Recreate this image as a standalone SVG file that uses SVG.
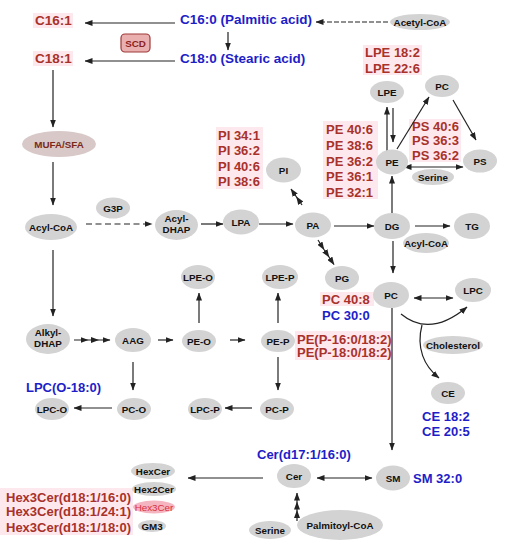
<svg xmlns="http://www.w3.org/2000/svg" width="507" height="550" viewBox="0 0 507 550">
<defs>
<style>
.n ellipse{fill:#d3d3d3}
.t{font-family:"Liberation Sans",Arial,sans-serif;font-weight:bold;font-size:9.8px;text-anchor:middle;fill:#111}
.lr{font-family:"Liberation Sans",Arial,sans-serif;font-weight:bold;font-size:13px;fill:#a8322a}
.lb{font-family:"Liberation Sans",Arial,sans-serif;font-weight:bold;font-size:13px;fill:#1e1ec8}
.big{font-size:13.5px}
.bg{fill:#fde8ee}
#connectors line,#connectors path,#connectors polyline{stroke:#222;stroke-width:1.2;fill:none}
</style>
<marker id="ah" markerUnits="userSpaceOnUse" markerWidth="8" markerHeight="6" refX="7.5" refY="3" orient="auto-start-reverse">
<path d="M0,0 L8,3 L0,6 Z" fill="#222"/>
</marker>
</defs>
<rect width="507" height="550" fill="#fff"/>

<g id="labels">
<rect class="bg" x="33" y="13" width="40" height="15"/>
<text class="lr big" x="35" y="25">C16:1</text>
<rect class="bg" x="33" y="51" width="40" height="15"/>
<text class="lr big" x="35" y="63">C18:1</text>
<text class="lb big" x="180" y="24">C16:0 (Palmitic acid)</text>
<text class="lb big" x="180" y="63">C18:0 (Stearic acid)</text>
<rect class="bg" x="363" y="45" width="59" height="30"/>
<text class="lr" x="365" y="57">LPE 18:2</text>
<text class="lr" x="365" y="72.5">LPE 22:6</text>
<rect class="bg" x="216" y="127" width="47" height="62"/>
<text class="lr" x="218" y="139.5">PI 34:1</text>
<text class="lr" x="218" y="155">PI 36:2</text>
<text class="lr" x="218" y="170.5">PI 40:6</text>
<text class="lr" x="218" y="186">PI 38:6</text>
<rect class="bg" x="323" y="121" width="55" height="78"/>
<text class="lr" x="326" y="133.5">PE 40:6</text>
<text class="lr" x="326" y="149.5">PE 38:6</text>
<text class="lr" x="326" y="165.5">PE 36:2</text>
<text class="lr" x="326" y="181">PE 36:1</text>
<text class="lr" x="326" y="196.5">PE 32:1</text>
<rect class="bg" x="409" y="119" width="52" height="43"/>
<text class="lr" x="412" y="130.5">PS 40:6</text>
<text class="lr" x="412" y="145">PS 36:3</text>
<text class="lr" x="412" y="159.5">PS 36:2</text>
<rect class="bg" x="320" y="292" width="54" height="14"/>
<text class="lr" x="322" y="303.5">PC 40:8</text>
<text class="lb" x="322" y="319.5">PC 30:0</text>
<rect class="bg" x="295" y="331" width="96" height="29"/>
<text class="lr" x="297" y="343.5">PE(P-16:0/18:2)</text>
<text class="lr" x="297" y="357">PE(P-18:0/18:2)</text>
<text class="lb" x="26" y="391.5">LPC(O-18:0)</text>
<text class="lb" x="422" y="420.5">CE 18:2</text>
<text class="lb" x="422" y="435.5">CE 20:5</text>
<text class="lb" x="257" y="458.5">Cer(d17:1/16:0)</text>
<text class="lb" x="413" y="482.5">SM 32:0</text>
<rect class="bg" x="0" y="488" width="133" height="47"/>
<text class="lr" x="6" y="501.5">Hex3Cer(d18:1/16:0)</text>
<text class="lr" x="6" y="516">Hex3Cer(d18:1/24:1)</text>
<text class="lr" x="6" y="531.5">Hex3Cer(d18:1/18:0)</text>
</g>

<g id="connectors">
<line x1="388" y1="22" x2="316" y2="22" stroke-dasharray="5,2" marker-end="url(#ah)"/>
<line x1="175" y1="23" x2="85" y2="23" marker-end="url(#ah)"/>
<line x1="228" y1="32" x2="228" y2="50" marker-end="url(#ah)"/>
<line x1="175" y1="61" x2="85" y2="61" marker-end="url(#ah)"/>
<line x1="53" y1="70" x2="53" y2="127" marker-end="url(#ah)"/>
<line x1="53" y1="162" x2="53" y2="205" marker-end="url(#ah)"/>
<line x1="86" y1="224" x2="152" y2="224" stroke-dasharray="6,3.5" marker-end="url(#ah)"/>
<line x1="201" y1="224" x2="223" y2="224" marker-end="url(#ah)"/>
<line x1="259" y1="224" x2="293" y2="224" marker-end="url(#ah)"/>
<line x1="334" y1="226" x2="374" y2="226" marker-end="url(#ah)"/>
<line x1="415" y1="226" x2="450" y2="226" marker-end="url(#ah)"/>
<polyline points="302,205 296.5,197 291,189" marker-mid="url(#ah)" marker-end="url(#ah)"/>
<polyline points="318,240 324,249.5 329,257 334,264.5" marker-mid="url(#ah)" marker-end="url(#ah)"/>
<line x1="392" y1="213" x2="392" y2="176" marker-end="url(#ah)"/>
<line x1="387" y1="152" x2="387" y2="107" marker-end="url(#ah)"/>
<line x1="393" y1="108" x2="393" y2="142" marker-end="url(#ah)"/>
<line x1="397" y1="149" x2="429" y2="97" marker-end="url(#ah)"/>
<line x1="453" y1="100" x2="476" y2="140" marker-end="url(#ah)"/>
<line x1="404" y1="167" x2="463" y2="167" marker-start="url(#ah)" marker-end="url(#ah)"/>
<line x1="393" y1="241" x2="393" y2="273" marker-end="url(#ah)"/>
<line x1="414" y1="298" x2="453" y2="298" marker-start="url(#ah)" marker-end="url(#ah)"/>
<path d="M401,314 Q430,338 467,307" marker-end="url(#ah)"/>
<path d="M422,325 C416,348 424,366 439,378" marker-end="url(#ah)"/>
<line x1="392" y1="308" x2="392" y2="450" marker-end="url(#ah)"/>
<line x1="53" y1="250" x2="53" y2="316" marker-end="url(#ah)"/>
<polyline points="74,340 88,340 98.5,340 110,340" marker-mid="url(#ah)" marker-end="url(#ah)"/>
<line x1="158" y1="340" x2="173" y2="340" marker-end="url(#ah)"/>
<line x1="133" y1="362" x2="133" y2="390" marker-end="url(#ah)"/>
<line x1="112" y1="408" x2="74" y2="408" marker-end="url(#ah)"/>
<line x1="199" y1="323" x2="199" y2="293" marker-end="url(#ah)"/>
<line x1="230" y1="340" x2="245" y2="340" marker-end="url(#ah)"/>
<line x1="278" y1="323" x2="278" y2="293" marker-end="url(#ah)"/>
<line x1="278" y1="357" x2="278" y2="390" marker-end="url(#ah)"/>
<line x1="252" y1="408" x2="225" y2="408" marker-end="url(#ah)"/>
<line x1="263" y1="478" x2="188" y2="478" marker-end="url(#ah)"/>
<line x1="317" y1="478" x2="372" y2="478" marker-start="url(#ah)" marker-end="url(#ah)"/>
<polyline points="297,521 297,510.5 297,502 297,493" marker-mid="url(#ah)" marker-end="url(#ah)"/>
</g>

<g id="SCD"><rect x="121" y="34" width="29" height="18" rx="4" fill="#eab0b0" stroke="#a03838" stroke-width="1.2"/><text class="t" x="135.5" y="46.5" style="fill:#8b1f1f">SCD</text></g>
<g id="AcetylCoA" class="n"><ellipse cx="420" cy="22" rx="30" ry="8"/><text class="t" x="420" y="25.5">Acetyl-CoA</text></g>
<g id="MUFASFA"><ellipse cx="59" cy="144" rx="37" ry="13" fill="#d8c8c8"/><text class="t" x="59" y="147.5" style="fill:#7a2a1a">MUFA/SFA</text></g>
<g id="AcylCoA" class="n"><ellipse cx="51" cy="227" rx="26" ry="13"/><text class="t" x="51" y="230.5">Acyl-CoA</text></g>
<g id="G3P" class="n"><ellipse cx="113" cy="208" rx="17" ry="10.5"/><text class="t" x="113" y="211.5">G3P</text></g>
<g id="AcylDHAP" class="n"><ellipse cx="176.5" cy="225" rx="21.5" ry="15"/><text class="t" x="176.5" y="222">Acyl-</text><text class="t" x="176.5" y="233">DHAP</text></g>
<g id="LPA" class="n"><ellipse cx="241" cy="222" rx="18" ry="12.5"/><text class="t" x="241" y="225.5">LPA</text></g>
<g id="PA" class="n"><ellipse cx="313" cy="225" rx="18" ry="12.5"/><text class="t" x="313" y="228.5">PA</text></g>
<g id="DG" class="n"><ellipse cx="392" cy="226" rx="18" ry="13"/><text class="t" x="392" y="229.5">DG</text></g>
<g id="TG" class="n"><ellipse cx="472" cy="226" rx="18" ry="13"/><text class="t" x="472" y="229.5">TG</text></g>
<g id="AcylCoA2" class="n"><ellipse cx="426" cy="243" rx="23" ry="10"/><text class="t" x="426" y="246.5">Acyl-CoA</text></g>
<g id="PI" class="n"><ellipse cx="283.5" cy="170" rx="17.5" ry="12.5"/><text class="t" x="283.5" y="173.5">PI</text></g>
<g id="PG" class="n"><ellipse cx="342" cy="278" rx="17" ry="12"/><text class="t" x="342" y="281.5">PG</text></g>
<g id="LPE" class="n"><ellipse cx="387" cy="92" rx="17" ry="11"/><text class="t" x="387" y="95.5">LPE</text></g>
<g id="PCtop" class="n"><ellipse cx="442" cy="86" rx="17" ry="11"/><text class="t" x="442" y="89.5">PC</text></g>
<g id="PE" class="n"><ellipse cx="392" cy="162" rx="16" ry="12.5"/><text class="t" x="392" y="165.5">PE</text></g>
<g id="PS" class="n"><ellipse cx="480" cy="161" rx="17" ry="11.5"/><text class="t" x="480" y="164.5">PS</text></g>
<g id="Serine1" class="n"><ellipse cx="433" cy="177" rx="21" ry="8"/><text class="t" x="433" y="180.5">Serine</text></g>
<g id="PC" class="n"><ellipse cx="391" cy="295" rx="18" ry="13"/><text class="t" x="391" y="298.5">PC</text></g>
<g id="LPC" class="n"><ellipse cx="473" cy="290" rx="18" ry="12"/><text class="t" x="473" y="293.5">LPC</text></g>
<g id="Cholesterol" class="n"><ellipse cx="453" cy="345" rx="30" ry="9"/><text class="t" x="453" y="348.5">Cholesterol</text></g>
<g id="CE" class="n"><ellipse cx="448" cy="393" rx="17" ry="11"/><text class="t" x="448" y="396.5">CE</text></g>
<g id="AlkylDHAP" class="n"><ellipse cx="48" cy="339" rx="22" ry="15"/><text class="t" x="48" y="335.5">Alkyl-</text><text class="t" x="48" y="346.5">DHAP</text></g>
<g id="AAG" class="n"><ellipse cx="133" cy="340" rx="18" ry="12"/><text class="t" x="133" y="343.5">AAG</text></g>
<g id="PEO" class="n"><ellipse cx="199" cy="341" rx="17" ry="11"/><text class="t" x="199" y="344.5">PE-O</text></g>
<g id="PEP" class="n"><ellipse cx="278" cy="341" rx="17" ry="11"/><text class="t" x="278" y="344.5">PE-P</text></g>
<g id="LPEO" class="n"><ellipse cx="198" cy="277" rx="17" ry="12"/><text class="t" x="198" y="280.5">LPE-O</text></g>
<g id="LPEP" class="n"><ellipse cx="280" cy="277" rx="18" ry="12"/><text class="t" x="280" y="280.5">LPE-P</text></g>
<g id="PCO" class="n"><ellipse cx="134" cy="409" rx="17" ry="11"/><text class="t" x="134" y="412.5">PC-O</text></g>
<g id="LPCO" class="n"><ellipse cx="52" cy="409" rx="17" ry="11"/><text class="t" x="52" y="412.5">LPC-O</text></g>
<g id="PCP" class="n"><ellipse cx="277" cy="409" rx="17" ry="11"/><text class="t" x="277" y="412.5">PC-P</text></g>
<g id="LPCP" class="n"><ellipse cx="205" cy="409" rx="17" ry="11"/><text class="t" x="205" y="412.5">LPC-P</text></g>
<g id="Cer" class="n"><ellipse cx="294" cy="476" rx="17" ry="12"/><text class="t" x="294" y="479.5">Cer</text></g>
<g id="SM" class="n"><ellipse cx="393" cy="478" rx="17" ry="12.5"/><text class="t" x="393" y="481.5">SM</text></g>
<g id="Serine2" class="n"><ellipse cx="270" cy="530" rx="21" ry="9"/><text class="t" x="270" y="533.5">Serine</text></g>
<g id="PalmitoylCoA" class="n"><ellipse cx="340" cy="525" rx="43" ry="15"/><text class="t" x="340" y="528.5">Palmitoyl-CoA</text></g>
<g id="HexCer" class="n"><ellipse cx="153" cy="471" rx="22" ry="8"/><text class="t" x="153" y="474.5">HexCer</text></g>
<g id="Hex2Cer" class="n"><ellipse cx="154" cy="489" rx="22" ry="7"/><text class="t" x="154" y="492.5">Hex2Cer</text></g>
<g id="Hex3Cer"><ellipse cx="154" cy="507" rx="21" ry="6.5" fill="#f4b4c0"/><text class="t" x="154" y="510.5" style="fill:#d9303f;font-weight:normal">Hex3Cer</text></g>
<g id="GM3" class="n"><ellipse cx="152" cy="526" rx="14" ry="6"/><text class="t" x="152" y="529.5">GM3</text></g>
</svg>
